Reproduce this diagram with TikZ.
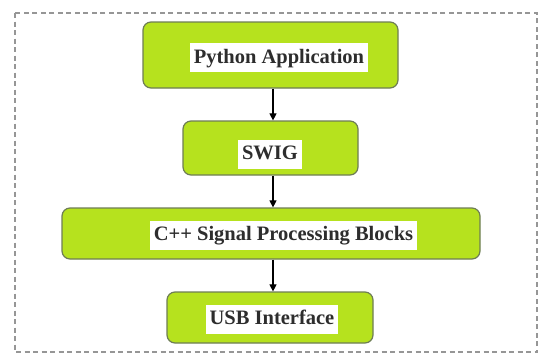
\documentclass[tikz,border=0pt]{standalone}
\usepackage{fontspec}
\setmainfont{Liberation Serif}
\usetikzlibrary{arrows.meta}
\definecolor{limefill}{RGB}{182,226,30}
\definecolor{boxedge}{RGB}{110,125,85}
\definecolor{labeltext}{RGB}{45,45,45}
\definecolor{frameline}{RGB}{150,150,150}
\begin{document}
\begin{tikzpicture}[x=1pt,y=-1pt,
  stage/.style={draw=boxedge,line width=1.2pt,fill=limefill,rounded corners=8pt,
                inner sep=0pt},
  label/.style={fill=white,inner xsep=4pt,inner ysep=0pt,
                text height=20pt,text depth=9pt,
                font=\fontsize{20.5}{22}\selectfont\bfseries,text=labeltext},
  flow/.style={line width=1.1pt,black,-{Triangle[length=7pt,width=7pt]}}]
  \useasboundingbox (0,0) rectangle (538,354);
  % outer dashed frame
  \draw[frameline,line width=1.2pt,dash pattern=on 5pt off 3.5pt] (15,13) rectangle (537,352);

  % stacked processing stages
  \node[stage,minimum width=255pt,minimum height=66pt] (py) at (270.5,55) {};
  \node[stage,minimum width=175pt,minimum height=54pt] (sw) at (270.5,148) {};
  \node[stage,minimum width=418pt,minimum height=51pt] (cpp) at (271,233.5) {};
  \node[stage,minimum width=206pt,minimum height=51pt] (usb) at (270,317.5) {};

  % white label plates
  \node[label] (pyl) at (279,57.5) {Python Application};
  \node[label] (swl) at (270,154) {SWIG};
  \node[label] (cppl) at (283.5,235) {C++ Signal Processing Blocks};
  \node[label] (usbl) at (272,319) {USB Interface};

  % connectors, all on one vertical line
  \coordinate (axis) at (273,0);
  \draw[flow] (py.south -| axis) -- (sw.north -| axis);
  \draw[flow] (sw.south -| axis) -- (cpp.north -| axis);
  \draw[flow] (cpp.south -| axis) -- (usb.north -| axis);
\end{tikzpicture}
\end{document}
